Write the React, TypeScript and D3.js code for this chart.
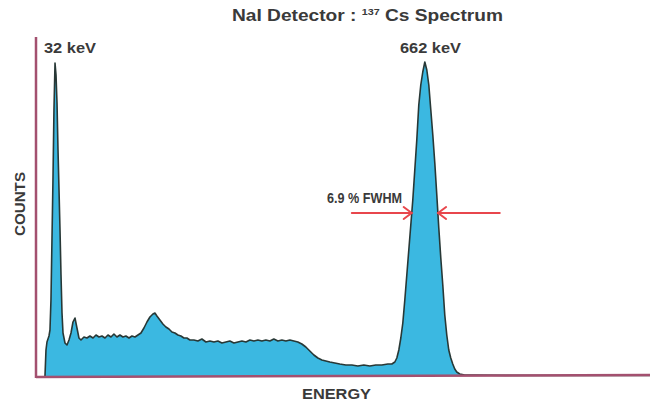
import React from 'react';
import * as d3 from 'd3';

// NaI detector, Cs-137 spectrum (energy in keV, counts in arbitrary units)
const energyKeV = [
  15.3, 17.0, 18.7, 22.1, 23.8, 25.5, 27.2, 28.9, 30.6, 32.4, 34.1, 35.8, 37.5, 39.2, 40.9, 42.6, 44.3, 46.0,
  49.4, 52.8, 56.2, 59.6, 63.0, 66.4, 69.8, 73.2, 76.6, 81.7, 86.8, 91.9, 97.1, 102.2, 107.3, 112.4, 117.5,
  122.6, 127.7, 132.8, 137.9, 143.0, 148.1, 153.2, 158.4, 163.5, 168.6, 173.7, 178.8, 183.9, 189.0, 194.1,
  199.2, 202.6, 206.0, 211.1, 216.2, 221.3, 226.5, 231.6, 236.7, 241.8, 246.9, 252.0, 257.1, 262.2, 269.0,
  275.8, 282.6, 289.5, 296.3, 303.1, 309.9, 316.7, 323.5, 330.3, 337.1, 344.0, 350.8, 357.6, 364.4, 371.2,
  378.0, 384.8, 391.6, 398.4, 405.2, 412.1, 418.9, 425.7, 432.5, 439.3, 446.1, 452.9, 459.7, 466.5, 473.4,
  480.2, 487.0, 493.8, 500.6, 509.1, 517.6, 527.8, 538.1, 548.3, 558.5, 568.7, 578.9, 589.1, 599.4, 606.2,
  611.3, 614.7, 618.1, 621.5, 624.9, 628.3, 631.7, 635.1, 638.5, 641.9, 645.3, 648.7, 652.1, 655.5, 658.9,
  662.4, 665.8, 669.2, 672.6, 676.0, 679.4, 682.8, 686.2, 689.6, 693.0, 696.4, 699.8, 703.2, 706.6, 710.0,
  713.4, 716.8, 721.9, 730.4, 747.5, 800, 900, 1000, 1046,
];
const counts = [
  0, 260, 340, 400, 460, 760, 1360, 1960, 2660, 3130, 3010, 2730, 2260, 1860, 1460, 1010, 630, 430,
  330, 310, 360, 430, 540, 580, 480, 380, 360, 390, 380, 400, 380, 410, 390, 400, 380,
  410, 390, 420, 390, 410, 390, 400, 380, 400, 390, 410, 430, 480, 540, 590,
  620, 630, 600, 560, 520, 490, 470, 440, 430, 410, 400, 380, 380, 360, 360,
  350, 370, 340, 350, 340, 350, 330, 340, 350, 330, 340, 350, 340, 360, 350,
  360, 350, 360, 350, 370, 350, 360, 350, 360, 350, 340, 320, 290, 250, 210,
  180, 160, 150, 140, 130, 120, 110, 110, 100, 110, 100, 110, 110, 120, 120,
  140, 180, 260, 380, 530, 760, 1010, 1260, 1510, 1760, 2060, 2360, 2710, 2910, 3040,
  3140, 3060, 2910, 2660, 2410, 2130, 1810, 1480, 1180, 910, 610, 410, 260, 180, 120,
  70, 40, 20, 10, 10, 6, 5, 6, 5,
];

const peakLabels = ['32 keV', '662 keV'];
const fwhmLabel = '6.9 % FWHM';
// half maximum of the 662 keV peak: level and the two edges, plus arrow tails
const fwhmLevel = 1630;
const fwhmEdges = [640, 685];
const arrowTails = [538, 790];

const W = 652;
const H = 405;

export default function App() {
  const x = d3.scaleLinear().domain([0, 1046]).range([36, 650]);
  const y = d3.scaleLinear().domain([0, 3400]).range([376, 36]);

  const pts = energyKeV.map((e, i) => ({ e, c: counts[i] }));

  const area = d3.area<{ e: number; c: number }>()
    .x(d => x(d.e))
    .y0(y(0))
    .y1(d => y(d.c));
  const line = d3.line<{ e: number; c: number }>()
    .x(d => x(d.e))
    .y(d => y(d.c));

  const axisColor = '#a3506f';
  const textColor = '#3a3a3a';
  const red = '#e8464c';
  const font = "'Liberation Sans', Arial, sans-serif";

  const ay = y(fwhmLevel);
  const arrow = (tail: number, tip: number) => {
    const xt = x(tip);
    const dir = Math.sign(x(tip) - x(tail));
    return (
      <g key={tip} stroke={red} strokeWidth={2} fill="none" strokeLinecap="round">
        <line x1={x(tail)} y1={ay} x2={xt} y2={ay} />
        <polyline points={`${xt - dir * 8},${ay - 6} ${xt},${ay} ${xt - dir * 8},${ay + 6}`} />
      </g>
    );
  };

  return (
    <svg width={W} height={H} style={{ position: 'absolute', left: 0, top: 0, background: '#fff' }}>
      <path d={area(pts) ?? ''} fill="#3bb8e1" />
      <path d={line(pts) ?? ''} fill="none" stroke="#283836" strokeWidth={1.6} strokeLinejoin="round" />

      {/* axes */}
      <line x1={x(0)} y1={y(0) + 1} x2={x(1046)} y2={y(0) - 1} stroke={axisColor} strokeWidth={2.5} />
      <line x1={x(0)} y1={y(3400) + 1} x2={x(0)} y2={y(0) + 2} stroke={axisColor} strokeWidth={2.5} />

      {/* FWHM arrows */}
      {arrow(arrowTails[0], fwhmEdges[0])}
      {arrow(arrowTails[1], fwhmEdges[1])}

      <g fontFamily={font} fontWeight="bold" fill={textColor}>
        <text x={232} y={21} fontSize={16} textLength={271} lengthAdjust="spacingAndGlyphs">
          NaI Detector : <tspan fontSize={9} dy={-6}>137</tspan>
          <tspan dy={6}> Cs Spectrum</tspan>
        </text>
        <text x={44} y={53} fontSize={14} textLength={52} lengthAdjust="spacingAndGlyphs">{peakLabels[0]}</text>
        <text x={400} y={53} fontSize={14} textLength={61} lengthAdjust="spacingAndGlyphs">{peakLabels[1]}</text>
        <text x={327} y={203} fontSize={14} textLength={75} lengthAdjust="spacingAndGlyphs">{fwhmLabel}</text>
        <text x={302} y={399} fontSize={14} textLength={69} lengthAdjust="spacingAndGlyphs">ENERGY</text>
        <text transform="translate(25,236) rotate(-90)" fontSize={14} textLength={64} lengthAdjust="spacingAndGlyphs">COUNTS</text>
      </g>
    </svg>
  );
}
